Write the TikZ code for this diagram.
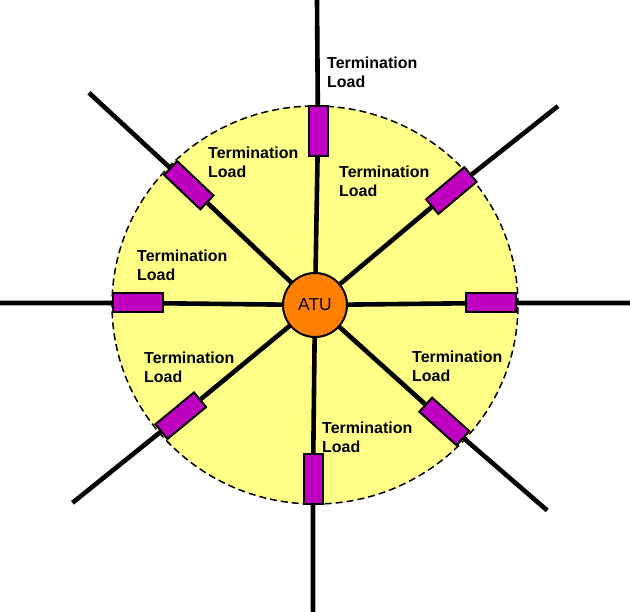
\documentclass[tikz,border=0pt]{standalone}
\usepackage{fontspec}
\setmainfont{Liberation Sans}
\usepackage{tikz}
\usetikzlibrary{shapes}
\pgfdeclarelayer{back}
\pgfdeclarelayer{mid}
\pgfsetlayers{back,mid,main}
\definecolor{zone}{RGB}{255,255,136}
\definecolor{atuorange}{RGB}{255,128,0}
\definecolor{loadmag}{RGB}{192,0,192}
\tikzset{
	load/.style={rectangle, draw, fill=loadmag, line width=2bp, minimum width=50bp, minimum height=19bp, inner sep=0pt},
	cable/.style={line width=4.6bp},
	lbl/.style={anchor=north west, inner sep=0pt, align=left, font=\fontsize{16}{19}\selectfont\bfseries}
}

\begin{document}
\begin{tikzpicture}[x=1bp,y=1bp]
	\useasboundingbox (-315,-307) rectangle (315,305);
	\begin{pgfonlayer}{back}
	\draw[fill=zone, line width=1.5bp, dash pattern=on 7bp off 4bp] (0,0) ellipse [x radius=203, y radius=199];
	\end{pgfonlayer}
	\node at (0,0) [circle, draw, fill=atuorange, line width=2bp, minimum size=64bp, inner sep=0pt, font=\fontsize{17.5}{19}\selectfont] (atu) {ATU};
	% loads
	\node at (3,174) [load, rotate=90] (ln) {};
	\node at (40:178) [load, rotate=40] (lne) {};
	\node at (176,2) [load] (le) {};
	\node at (-42:174) [load, rotate=-42] (lse) {};
	\node at (-2,-174) [load, rotate=90] (ls) {};
	\node at (219.5:174) [load, rotate=39.5] (lsw) {};
	\node at (-177,2) [load] (lw) {};
	\node at (136.5:174) [load, rotate=-43.5] (lnw) {};
	% cable ends
	\coordinate (en) at (2,305);
	\coordinate (ene) at (39.3:314);
	\coordinate (ee) at (315,2);
	\coordinate (ese) at (-41.5:310);
	\coordinate (es) at (-2,-307);
	\coordinate (esw) at (219.2:313);
	\coordinate (ew) at (-315,2);
	\coordinate (enw) at (136.8:310);
	\begin{pgfonlayer}{mid}
	\foreach \d in {n,ne,e,se,s,sw,w,nw}
		\draw[cable] (atu) -- (l\d) -- (e\d);
	\end{pgfonlayer}
	% labels
	\node at (12,248) [lbl] (tn) {Termination\\Load};
	\node at (24,139) [lbl] (tne) {Termination\\Load};
	\node at (97,-46) [lbl] (tse) {Termination\\Load};
	\node at (7,-117) [lbl] (ts) {Termination\\Load};
	\node at (-171,-47) [lbl] (tsw) {Termination\\Load};
	\node at (-178,55) [lbl] (tw) {Termination\\Load};
	\node at (-107,158) [lbl] (tnw) {Termination\\Load};
\end{tikzpicture}
\end{document}
